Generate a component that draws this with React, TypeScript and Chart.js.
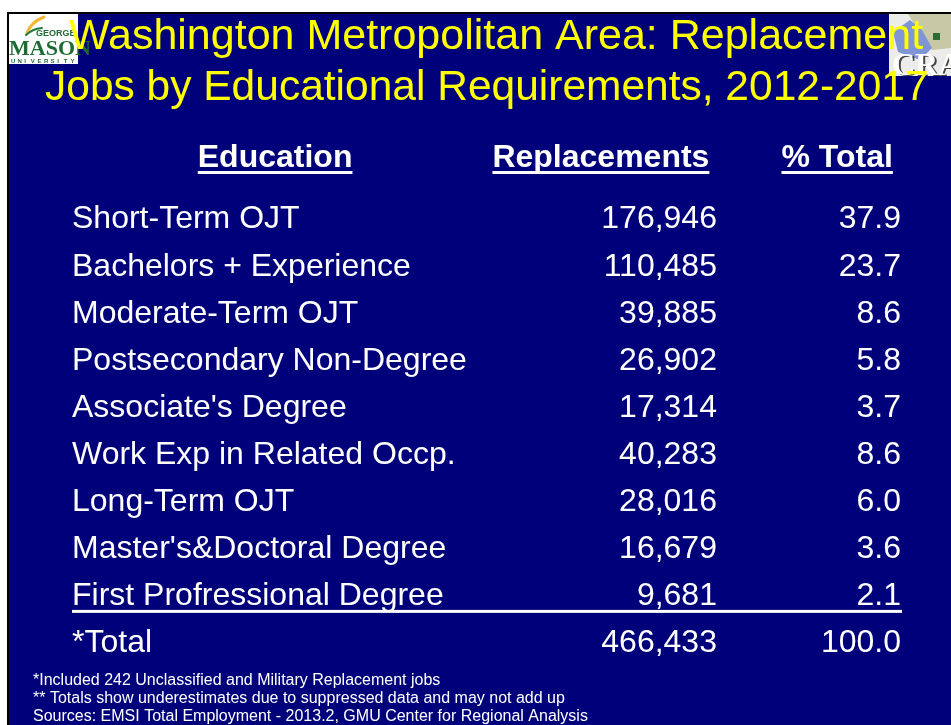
import React, { useEffect, useRef } from "react";
import { Chart, registerables } from "chart.js";

Chart.register(...registerables);

// ---------- data ----------
const titleLines = [
  "Washington Metropolitan Area: Replacement",
  "Jobs by Educational Requirements, 2012-2017",
];
const columnHeaders = ["Education", "Replacements", "% Total"];
const educationLevels = [
  "Short-Term OJT",
  "Bachelors + Experience",
  "Moderate-Term OJT",
  "Postsecondary Non-Degree",
  "Associate's Degree",
  "Work Exp in Related Occp.",
  "Long-Term OJT",
  "Master's&Doctoral Degree",
  "First Profressional Degree",
];
const replacements = [176946, 110485, 39885, 26902, 17314, 40283, 28016, 16679, 9681];
const pctTotal = [37.9, 23.7, 8.6, 5.8, 3.7, 8.6, 6.0, 3.6, 2.1];
const totalLabel = "*Total";
const totalReplacements = 466433;
const totalPct = 100.0;
const footnotes = [
  "*Included 242 Unclassified and Military Replacement jobs",
  "** Totals show underestimates due to suppressed data and may not add up",
  "Sources: EMSI Total Employment - 2013.2, GMU Center for Regional Analysis",
];

// ---------- style ----------
const FONT = '"Liberation Sans", Arial, Helvetica, sans-serif';
const SERIF = '"Liberation Serif", "DejaVu Serif", serif';
const NAVY = "#00007a";
const YELLOW = "#ffff00";
const WHITE = "#ffffff";
// column anchors on the hidden x scale (0..1)
const COL_EDU = 0; // left aligned
const COL_REP = 0.778; // right aligned
const COL_PCT = 1; // right aligned
const HEAD_X = [0.245, 0.638, 0.923]; // header centres

const rowLabels = [...educationLevels, totalLabel];
const repAll = [...replacements, totalReplacements];
const pctAll = [...pctTotal, totalPct];

function drawGmuLogo(ctx: CanvasRenderingContext2D) {
  ctx.save();
  ctx.fillStyle = "#ffffff";
  ctx.fillRect(9, 14, 69, 50);
  ctx.lineCap = "round";
  ctx.strokeStyle = "#f2b632";
  ctx.lineWidth = 3;
  ctx.beginPath();
  ctx.moveTo(27, 33);
  ctx.quadraticCurveTo(31, 22, 44, 17);
  ctx.stroke();
  ctx.strokeStyle = "#1f7a3c";
  ctx.lineWidth = 2;
  ctx.beginPath();
  ctx.moveTo(26, 35);
  ctx.quadraticCurveTo(32, 29, 42, 28);
  ctx.stroke();
  ctx.fillStyle = "#1f6b35";
  ctx.textBaseline = "alphabetic";
  ctx.textAlign = "left";
  ctx.font = `bold 9px ${FONT}`;
  ctx.fillText("GEORGE", 36, 36);
  ctx.font = `bold 22px ${SERIF}`;
  ctx.fillText("MASON", 9, 55);
  ctx.font = `bold 6px ${FONT}`;
  const u = "UNIVERSITY";
  for (let i = 0; i < u.length; i++) ctx.fillText(u[i], 11 + i * 6.6, 63);
  ctx.restore();
}

function drawCraLogo(ctx: CanvasRenderingContext2D) {
  ctx.save();
  ctx.fillStyle = "#ececea";
  ctx.fillRect(889, 14, 62, 62);
  ctx.fillStyle = "#c8c8a6";
  ctx.beginPath();
  ctx.moveTo(908, 14);
  ctx.lineTo(951, 14);
  ctx.lineTo(951, 48);
  ctx.lineTo(932, 50);
  ctx.lineTo(918, 30);
  ctx.closePath();
  ctx.fill();
  ctx.fillStyle = "#7f95d6";
  ctx.beginPath();
  ctx.moveTo(893, 32);
  ctx.lineTo(910, 20);
  ctx.lineTo(922, 30);
  ctx.lineTo(932, 48);
  ctx.lineTo(920, 60);
  ctx.lineTo(898, 52);
  ctx.closePath();
  ctx.fill();
  ctx.fillStyle = "#2e6b34";
  ctx.fillRect(933, 33, 7, 7);
  ctx.font = `bold 32px ${SERIF}`;
  ctx.textAlign = "left";
  ctx.textBaseline = "alphabetic";
  ctx.fillStyle = "#444444";
  ctx.fillText("CRA", 894, 76);
  ctx.fillStyle = "#ffffff";
  ctx.fillText("CRA", 892, 75);
  ctx.restore();
}

const slidePlugin = {
  id: "slide",
  beforeDraw(chart: any) {
    const ctx: CanvasRenderingContext2D = chart.ctx;
    const W = chart.width;
    const H = chart.height;
    ctx.save();
    ctx.fillStyle = "#ffffff";
    ctx.fillRect(0, 0, W, H);
    ctx.fillStyle = "#000000";
    ctx.fillRect(7, 12, W - 7, H - 12);
    ctx.fillStyle = NAVY;
    ctx.fillRect(9, 14, W - 9, H - 14);
    drawGmuLogo(ctx);
    drawCraLogo(ctx);
    // title
    ctx.fillStyle = YELLOW;
    ctx.textAlign = "left";
    ctx.textBaseline = "alphabetic";
    ctx.font = `43px ${FONT}`;
    ctx.fillText(titleLines[0], 69, 49);
    ctx.font = `42.5px ${FONT}`;
    ctx.fillText(titleLines[1], 45, 100);
    ctx.restore();
  },
  afterDatasetsDraw(chart: any) {
    const ctx: CanvasRenderingContext2D = chart.ctx;
    const xs = chart.scales.x;
    const area = chart.chartArea;
    ctx.save();
    ctx.fillStyle = WHITE;
    ctx.textBaseline = "alphabetic";
    // headers
    ctx.font = `bold 32px ${FONT}`;
    ctx.textAlign = "center";
    const headBase = area.top - 50;
    columnHeaders.forEach((h, i) => {
      const cx = xs.getPixelForValue(HEAD_X[i]);
      ctx.fillText(h, cx, headBase);
      const w = ctx.measureText(h).width;
      ctx.fillRect(cx - w / 2, headBase + 4, w, 3);
    });
    // cells
    const size = 32;
    ctx.font = `${size}px ${FONT}`;
    const capOff = (size * 0.716) / 2;
    chart.data.datasets.forEach((ds: any, di: number) => {
      const meta = chart.getDatasetMeta(di);
      meta.data.forEach((el: any, i: number) => {
        ctx.textAlign = ds.textAlign;
        ctx.fillText(ds.texts[i], el.x, el.y + capOff);
      });
    });
    // underline of last education row
    const ys = chart.scales.y;
    const lastY = ys.getPixelForValue(educationLevels.length - 1);
    ctx.fillRect(area.left, lastY + 16, area.right - area.left + 1, 3);
    // footnotes
    ctx.font = `16px ${FONT}`;
    ctx.textAlign = "left";
    footnotes.forEach((f, i) => ctx.fillText(f, 33, 685 + i * 18));
    ctx.restore();
  },
};

export default function App() {
  const ref = useRef<HTMLCanvasElement>(null);
  useEffect(() => {
    const canvas = ref.current;
    if (!canvas) return;
    const chart = new Chart(canvas, {
      type: "scatter",
      data: {
        datasets: [
          {
            label: columnHeaders[0],
            data: rowLabels.map((l) => ({ x: COL_EDU, y: l })) as any,
            texts: rowLabels,
            textAlign: "left",
            pointRadius: 0,
          } as any,
          {
            label: columnHeaders[1],
            data: rowLabels.map((l) => ({ x: COL_REP, y: l })) as any,
            texts: repAll.map((v) => v.toLocaleString("en-US")),
            textAlign: "right",
            pointRadius: 0,
          } as any,
          {
            label: columnHeaders[2],
            data: rowLabels.map((l) => ({ x: COL_PCT, y: l })) as any,
            texts: pctAll.map((v) => v.toFixed(1)),
            textAlign: "right",
            pointRadius: 0,
          } as any,
        ],
      },
      options: {
        animation: false,
        responsive: false,
        devicePixelRatio: 1,
        layout: { padding: { left: 72, right: 50, top: 217, bottom: 84 } },
        plugins: { legend: { display: false }, tooltip: { enabled: false } },
        events: [],
        scales: {
          x: { type: "linear", min: 0, max: 1, display: false },
          y: { type: "category", labels: rowLabels, offset: false, display: false },
        },
      } as any,
      plugins: [slidePlugin],
    });
    return () => chart.destroy();
  }, []);
  return (
    <div style={{ position: "fixed", left: 0, top: 0, width: 951, height: 725, overflow: "hidden" }}>
      <canvas ref={ref} width={951} height={725} style={{ display: "block", width: 951, height: 725 }} />
    </div>
  );
}
